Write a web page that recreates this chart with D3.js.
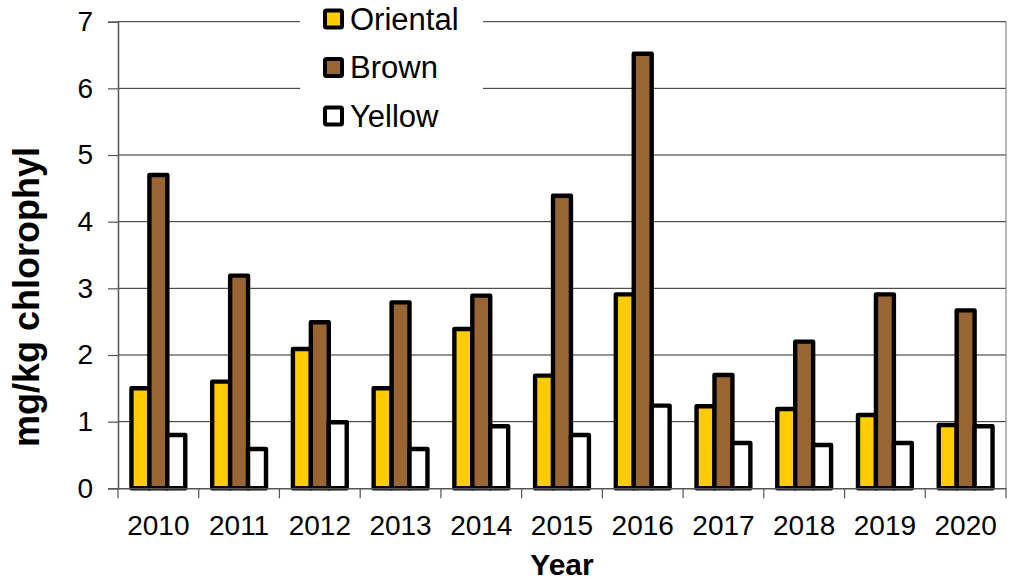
<!DOCTYPE html>
<html>
<head>
<meta charset="utf-8">
<script src="https://cdn.jsdelivr.net/npm/d3@7"></script>
<style>
  html, body { margin: 0; padding: 0; background: #fff; }
  svg { display: block; font-family: "Liberation Sans", Arial, sans-serif; }
</style>
</head>
<body>
<svg id="chart" width="1013" height="582"></svg>
<script>
const years = ["2010","2011","2012","2013","2014","2015","2016","2017","2018","2019","2020"];
const seriesNames = ["Oriental","Brown","Yellow"];
const oriental = [1.5, 1.6, 2.09, 1.5, 2.39, 1.69, 2.91, 1.23, 1.19, 1.1, 0.95];
const brown    = [4.7, 3.19, 2.49, 2.79, 2.89, 4.39, 6.52, 1.7, 2.2, 2.91, 2.67];
const yellow   = [0.8, 0.59, 0.99, 0.59, 0.93, 0.8, 1.24, 0.68, 0.65, 0.68, 0.93];
const yTicks = [0,1,2,3,4,5,6,7];
const colors = ["#FFCC00", "#996633", "#FFFFFF"];

const seriesValues = [oriental, brown, yellow];

const svg = d3.select("#chart");
const plotLeft = 118, plotRight = 1006, plotTop = 21.7, plotBottom = 488.3;

const x = d3.scaleBand().domain(years).range([plotLeft, plotRight]).paddingInner(0).paddingOuter(0);
const y = d3.scaleLinear().domain([0, 7]).range([plotBottom, plotTop]);

// bar geometry: gap width 150% -> band = 4.5 bar widths
const bw = x.bandwidth() / 4.5;
const groupOffset = 0.75 * bw;
const xs = d3.scaleBand().domain(seriesNames).range([groupOffset, groupOffset + 3 * bw]);

// gridlines
svg.append("g").selectAll("line").data(yTicks.filter(d => d > 0)).join("line")
  .attr("x1", plotLeft).attr("x2", plotRight)
  .attr("y1", d => y(d)).attr("y2", d => y(d))
  .attr("stroke", "#2a2a2a").attr("stroke-width", 1);

// right border of plot area
svg.append("line").attr("x1", plotRight).attr("x2", plotRight).attr("y1", plotTop).attr("y2", plotBottom)
  .attr("stroke", "#888").attr("stroke-width", 1.2);

// bars
const barData = [];
seriesNames.forEach((s, si) => {
  years.forEach((yr, i) => barData.push({ s, si, yr, v: seriesValues[si][i] }));
});
svg.append("g").selectAll("rect").data(barData).join("rect")
  .attr("x", d => x(d.yr) + xs(d.s))
  .attr("width", xs.bandwidth())
  .attr("y", d => y(d.v))
  .attr("height", d => y(0) - y(d.v))
  .attr("fill", d => colors[d.si])
  .attr("stroke", "#000")
  .attr("stroke-width", 4.4)
  .attr("stroke-linejoin", "round");

// y axis
const yAxis = d3.axisLeft(y).tickValues(yTicks).tickSize(10).tickPadding(15).tickFormat(d3.format("d"));
const gy = svg.append("g").attr("transform", `translate(${plotLeft},0)`).call(yAxis);
gy.select(".domain").attr("stroke", "#555").attr("stroke-width", 1.5);
gy.selectAll(".tick line").attr("stroke", "#555").attr("stroke-width", 1.2);
gy.selectAll(".tick text").attr("font-size", 28).attr("fill", "#000")
  .attr("font-family", "'Liberation Sans', Arial, sans-serif");

// x axis
const xAxis = d3.axisBottom(x).tickSize(0).tickPadding(27);
const gx = svg.append("g").attr("transform", `translate(0,${plotBottom})`).call(xAxis);
gx.select(".domain").attr("stroke", "#555").attr("stroke-width", 1.5);
gx.selectAll(".tick text").attr("font-size", 28).attr("fill", "#000")
  .attr("font-family", "'Liberation Sans', Arial, sans-serif");
// category boundary ticks
const bounds = years.map(d => x(d)).concat([plotRight]);
gx.append("g").selectAll("line").data(bounds).join("line")
  .attr("x1", d => d).attr("x2", d => d).attr("y1", 0).attr("y2", 10)
  .attr("stroke", "#555").attr("stroke-width", 1.2);

// axis titles
svg.append("text")
  .attr("transform", `translate(39,297) rotate(-90)`)
  .attr("text-anchor", "middle")
  .attr("font-size", 36).attr("font-weight", "bold").attr("fill", "#000")
  .text("mg/kg chlorophyl");

svg.append("text")
  .attr("x", (plotLeft + plotRight) / 2).attr("y", 575)
  .attr("text-anchor", "middle")
  .attr("font-size", 30).attr("font-weight", "bold").attr("fill", "#000")
  .text("Year");

// legend
const lg = svg.append("g");
lg.append("rect").attr("x", 300).attr("y", 0).attr("width", 183).attr("height", 140).attr("fill", "#fff");
const legendY = d3.scalePoint().domain(seriesNames).range([19, 116]);
const items = lg.selectAll("g.item").data(seriesNames).join("g").attr("class", "item")
  .attr("transform", d => `translate(0,${legendY(d)})`);
items.append("rect")
  .attr("x", 325).attr("y", -8.5).attr("width", 17).attr("height", 17)
  .attr("rx", 1.5)
  .attr("fill", (d, i) => colors[i]).attr("stroke", "#000").attr("stroke-width", 4)
  .attr("stroke-linejoin", "round");
items.append("text")
  .attr("x", 350).attr("dy", "0.35em")
  .attr("font-size", 31).attr("fill", "#000")
  .text(d => d);
</script>
</body>
</html>
